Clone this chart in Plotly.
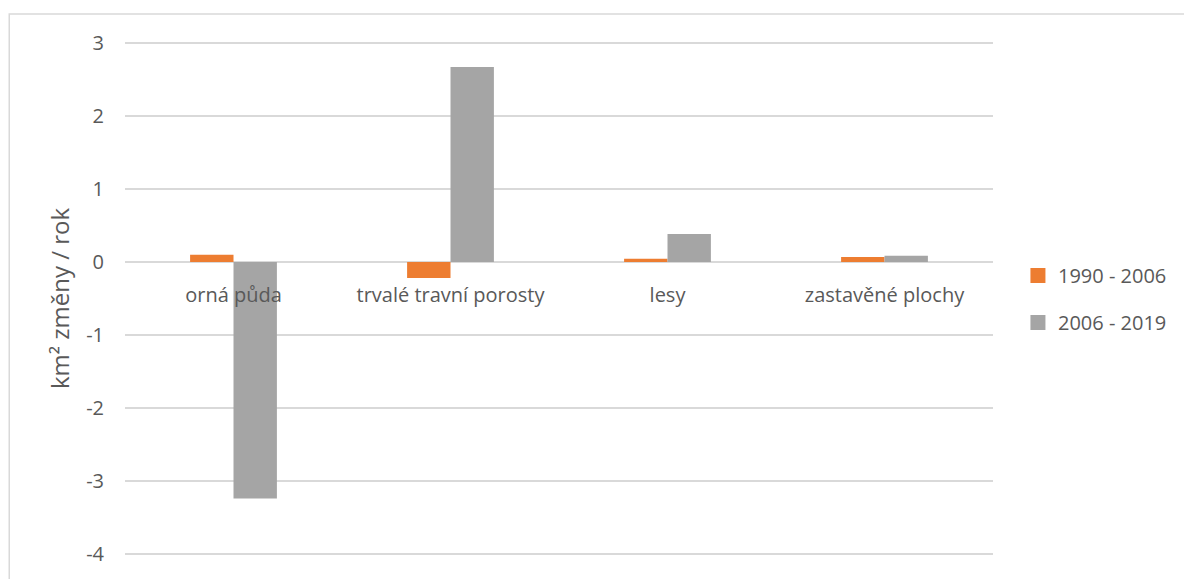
import plotly.graph_objects as go

categories = ["orná půda", "trvalé travní porosty", "lesy", "zastavěné plochy"]
series_names = ["1990 - 2006", "2006 - 2019"]
values_1990_2006 = [0.10, -0.22, 0.045, 0.07]
values_2006_2019 = [-3.24, 2.67, 0.385, 0.086]
y_ticks = [-4, -3, -2, -1, 0, 1, 2, 3]
colors = ["#ED7D31", "#A5A5A5"]

W, H = 1184, 579
PAD = 3  # extra pixels so edge gridlines are drawn
top_px, bot_px = 43, 556
L, R = 125, 1184 - 995
T, B = top_px - PAD, H - bot_px - PAD
pw, ph = W - L - R, H - T - B
unit = (bot_px - top_px) / 7.0
yr = [-4 - PAD / unit, 3 + PAD / unit]


def py(pixel_y):
    return (H - B - pixel_y) / ph


txt = "#595959"
grid = "#d9d9d9"
font_family = "Open Sans"

fig = go.Figure()
for name, vals, col, grp in [(series_names[0], values_1990_2006, colors[0], "a"),
                             (series_names[1], values_2006_2019, colors[1], "b")]:
    fig.add_trace(go.Bar(x=categories, y=vals, name=name, showlegend=False,
                         marker=dict(color=col, line=dict(width=0)), legendgroup=grp))
    # legend proxy with a larger square symbol
    fig.add_trace(go.Scatter(x=[None], y=[None], mode="markers", name=name,
                             marker=dict(symbol="square", size=15, color=col),
                             legendgroup=grp, showlegend=True))

# outer chart border
fig.add_shape(type="rect", xref="paper", yref="paper",
              x0=(9 - L) / pw, x1=(1220 - L) / pw,
              y0=py(640), y1=py(14),
              line=dict(color=grid, width=1.5), fillcolor="rgba(0,0,0,0)", layer="below")

fig.update_layout(
    width=W, height=H,
    margin=dict(l=L, r=R, t=T, b=B, pad=0),
    paper_bgcolor="white", plot_bgcolor="white",
    barmode="group", bargap=0.6, bargroupgap=0,
    font=dict(family=font_family, size=20, color=txt),
    legend=dict(x=(1020 - L) / pw, xanchor="left", y=py(300), yanchor="middle",
                font=dict(size=20, color=txt), tracegroupgap=18,
                traceorder="grouped", bgcolor="rgba(0,0,0,0)"),
    xaxis=dict(type="category", anchor="free", position=py(263),
               showline=False, ticks="", ticklabelstandoff=19,
               tickfont=dict(size=20, color=txt), showgrid=False, zeroline=False),
    yaxis=dict(range=yr, tickvals=y_ticks, ticktext=[str(v) for v in y_ticks],
               showgrid=True, gridcolor=grid, gridwidth=1.5,
               zeroline=True, zerolinecolor=grid, zerolinewidth=1.5,
               showline=False, ticks="", ticklabelstandoff=20,
               tickfont=dict(size=20, color=txt),
               title=dict(text="km² změny / rok", font=dict(size=24, color=txt), standoff=9)),
)

fig.write_html("out.html")
